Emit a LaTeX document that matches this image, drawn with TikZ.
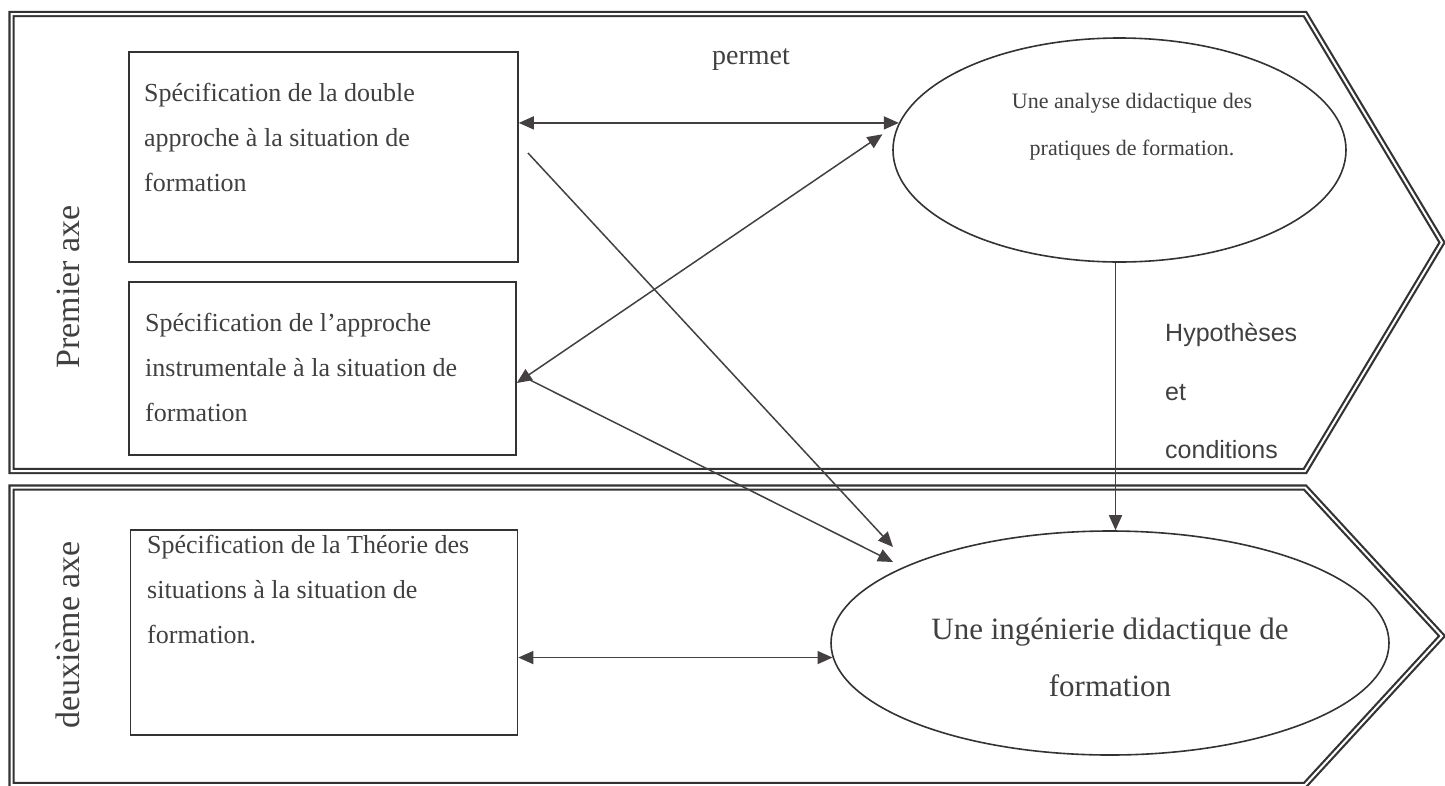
\documentclass[tikz,border=0pt]{standalone}
\usepackage{fontspec}
\setmainfont{Liberation Serif}
\newfontfamily\arialf{Liberation Sans}
\usetikzlibrary{arrows.meta,shapes.geometric}
\definecolor{linec}{HTML}{333333}
\definecolor{txtc}{HTML}{404040}
\definecolor{arrc}{HTML}{444040}
\begin{document}
\begin{tikzpicture}[x=1pt,y=-1pt,
  frame/.style={draw=linec, line width=2.2pt, double=white, double distance=2pt, line join=miter},
  box/.style={draw=linec, line width=1.6pt, rectangle, inner sep=0pt},
  ell/.style={draw=linec, line width=1.6pt, ellipse, inner sep=0pt},
  boxtxt/.style={anchor=north west, align=left, inner sep=0pt, text=txtc, font=\fontsize{26}{45}\selectfont},
  arr/.style={draw=arrc, line width=1.5pt, arrows={-Triangle[length=15pt,width=13pt]}},
  darr/.style={draw=arrc, line width=1.5pt, arrows={Triangle[length=15pt,width=13pt]-Triangle[length=15pt,width=13pt]}},
]
\useasboundingbox (0,0) rectangle (1445,785);
\fill[white] (0,0) rectangle (1445,785);
% frames
\draw[frame] (11.5,14) -- (1305,14) -- (1442,242.5) -- (1305,471) -- (11.5,471) -- cycle;
\draw[frame] (11.5,487.5) -- (1305,487.5) -- (1442,636) -- (1305,785) -- (11.5,785) -- cycle;
% boxes
\node[box, minimum width=389pt, minimum height=210pt] (b1) at (323.5,157) {};
\node[box, minimum width=387pt, minimum height=173pt] (b2) at (322.5,368.5) {};
\node[box, minimum width=387pt, minimum height=205pt] (b3) at (324,632.5) {};
\node[boxtxt] (t1) at (144,83) {Spécification de la double\\approche à la situation de\\formation};
\node[boxtxt] (t2) at (145,313) {Spécification de l’approche\\instrumentale à la situation de\\formation};
\node[boxtxt] (t3) at (147,535) {Spécification de la Théorie des\\situations à la situation de\\formation.};
% ellipses
\node[ell, minimum width=453pt, minimum height=224pt] (e1) at (1119.5,150) {};
\node[ell, minimum width=558pt, minimum height=224pt] (e2) at (1110,643) {};
\node[align=center, inner sep=0pt, text=txtc, font=\fontsize{22}{47}\selectfont] (et1) at (1132,127) {Une analyse didactique des\\pratiques de formation.};
\node[align=center, inner sep=0pt, text=txtc, font=\fontsize{31}{57}\selectfont] (et2) at (1110,657) {Une ingénierie didactique de\\formation};
% labels
\node[inner sep=0pt, text=txtc, font=\fontsize{28}{30}\selectfont] (perm) at (751,60) {permet};
\node[anchor=north west, align=left, inner sep=0pt, text=txtc, font=\arialf\fontsize{25}{58.5}\selectfont] (hyp) at (1165,323) {Hypothèses\\et\\conditions};
\node[rotate=90, inner sep=0pt, text=txtc, font=\fontsize{34}{34}\selectfont] (ax1) at (68,287) {Premier axe};
\node[rotate=90, inner sep=0pt, text=txtc, font=\fontsize{34}{34}\selectfont] (ax2) at (68,635) {deuxième axe};
% free ends
\coordinate (s1) at (528,153);
\coordinate (s2) at (530,380);
\coordinate (f1) at (893,547);
\coordinate (f2) at (893,562);
% connectors
\draw[darr] (e1.173 -| b1.east) -- (e1.173);
\draw[darr] ([yshift=-14.5pt]b2.east) -- ([xshift=-12pt]e1.176);
\draw[arr] (s1) -- (f1);
\draw[arr] (s2) -- (f2);
\draw[arr] ([xshift=-4pt]e1.south) -- ([xshift=-4pt]e1.south |- e2.north);
\draw[darr] (e2.183 -| b3.east) -- (e2.183);
\end{tikzpicture}
\end{document}
